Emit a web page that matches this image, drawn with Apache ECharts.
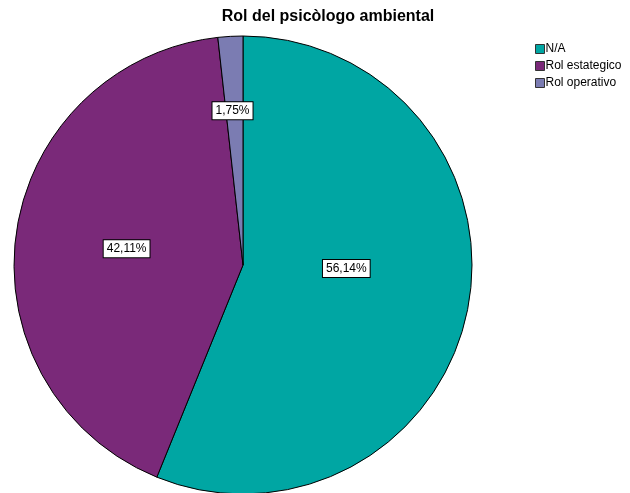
<!DOCTYPE html>
<html><head><meta charset="utf-8">
<script src="https://cdn.jsdelivr.net/npm/echarts@6/dist/echarts.min.js"></script>
<style>html,body{margin:0;padding:0;background:#fff}#c{width:630px;height:493px}</style>
</head><body><div id="c"></div>
<script>
const categories = ['N/A', 'Rol estategico', 'Rol operativo'];
const counts = [32, 24, 1];
const colors = ['#00A6A3', '#7A2979', '#7B7CB2'];
const labelOffsets = [[-12, -19], [0, 0], [-4, -37]];
const total = counts.reduce((a, b) => a + b, 0);
const chart = echarts.init(document.getElementById('c'));
chart.setOption({
  animation: false,
  title: {
    text: 'Rol del psicòlogo ambiental', left: 323, top: 4, textAlign: 'center',
    textStyle: { fontFamily: 'Liberation Sans, Arial', fontSize: 16, fontWeight: 'bold', color: '#000' }
  },
  legend: {
    orient: 'vertical', left: 530, top: 38, itemWidth: 9, itemHeight: 9, itemGap: 5,
    icon: 'rect',
    textStyle: { fontFamily: 'Liberation Sans, Arial', fontSize: 12, color: '#000', padding: [0, 0, 0, -4] },
    data: categories.map(c => ({ name: c, itemStyle: { borderColor: '#333', borderWidth: 1 } }))
  },
  series: [{
    type: 'pie', center: [243, 265], radius: 229, startAngle: 90, clockwise: true,
    avoidLabelOverlap: false,
    itemStyle: { borderColor: '#000', borderWidth: 1 },
    label: {
      show: true, position: 'inside',
      formatter: p => (p.value / total * 100).toFixed(2).replace('.', ',') + '%',
      fontFamily: 'Liberation Sans, Arial', fontSize: 12, color: '#000',
      backgroundColor: '#fff', borderColor: '#000', borderWidth: 1, padding: [3, 3, 2, 3]
    },
    labelLine: { show: false },
    emphasis: { disabled: true },
    data: categories.map((c, i) => ({
      name: c, value: counts[i], itemStyle: { color: colors[i] },
      label: { offset: labelOffsets[i] }
    }))
  }]
});
</script></body></html>
